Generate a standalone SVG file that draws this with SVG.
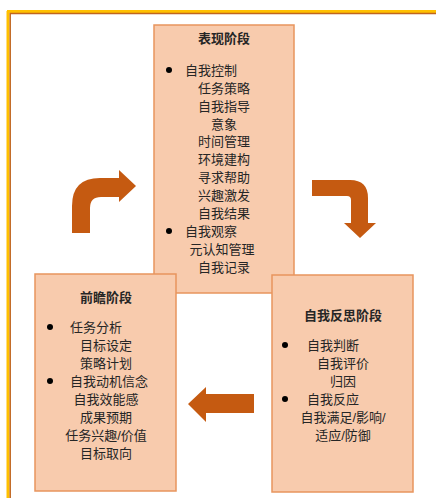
<svg xmlns="http://www.w3.org/2000/svg" width="436" height="498" viewBox="0 0 436 498">
<style>
.box{fill:#F8CBAD;stroke:#E8955E;stroke-width:1.5}
.t{font-family:"Liberation Sans","Noto Sans CJK SC",sans-serif;font-size:13px;fill:#262626}
.h{font-weight:bold}
.m{text-anchor:middle}
.arrow{fill:#C55A11}
.dot{fill:#000}
</style>
<rect x="0" y="0" width="436" height="498" fill="#fff"/>
<g id="frame">
<line x1="7" y1="11.5" x2="436" y2="11.5" stroke="#FFC000" stroke-width="3"/>
<line x1="8" y1="11" x2="8" y2="498" stroke="#FFC000" stroke-width="3"/>
<line x1="10" y1="13.5" x2="436" y2="13.5" stroke="#C0651E" stroke-width="1.5"/>
<line x1="10.2" y1="13" x2="10.2" y2="498" stroke="#C0651E" stroke-width="1.5"/>
</g>
<g id="performance">
<rect class="box" x="154" y="25" width="140" height="268"/>
<text class="t h m" x="224" y="43">表现阶段</text>
<circle class="dot" cx="169" cy="70" r="3"/>
<text class="t" x="185" y="74.5">自我控制</text>
<text class="t m" x="224" y="92.5">任务策略</text>
<text class="t m" x="224" y="110.5">自我指导</text>
<text class="t m" x="224" y="128.5">意象</text>
<text class="t m" x="224" y="146">时间管理</text>
<text class="t m" x="224" y="164">环境建构</text>
<text class="t m" x="224" y="182">寻求帮助</text>
<text class="t m" x="224" y="200">兴趣激发</text>
<text class="t m" x="224" y="218">自我结果</text>
<circle class="dot" cx="169" cy="231" r="3"/>
<text class="t" x="185" y="235.5">自我观察</text>
<text class="t m" x="222" y="253.5">元认知管理</text>
<text class="t m" x="224" y="271.5">自我记录</text>
</g>
<g id="forethought">
<rect class="box" x="35" y="274" width="141" height="217"/>
<text class="t h m" x="106" y="301.5">前瞻阶段</text>
<circle class="dot" cx="50" cy="327" r="3"/>
<text class="t" x="70" y="331.5">任务分析</text>
<text class="t m" x="106" y="349.5">目标设定</text>
<text class="t m" x="106" y="367.5">策略计划</text>
<circle class="dot" cx="50" cy="381" r="3"/>
<text class="t" x="70" y="385.5">自我动机信念</text>
<text class="t m" x="106" y="403.5">自我效能感</text>
<text class="t m" x="106" y="421.5">成果预期</text>
<text class="t m" x="106" y="439.5">任务兴趣/价值</text>
<text class="t m" x="106" y="457.5">目标取向</text>
</g>
<g id="reflection">
<rect class="box" x="272" y="275" width="141" height="217"/>
<text class="t h m" x="343" y="319.5">自我反思阶段</text>
<circle class="dot" cx="285" cy="345" r="3"/>
<text class="t" x="307" y="349.5">自我判断</text>
<text class="t m" x="343" y="367.5">自我评价</text>
<text class="t m" x="343" y="385.5">归因</text>
<circle class="dot" cx="285" cy="399" r="3"/>
<text class="t" x="307" y="403.5">自我反应</text>
<text class="t m" x="343" y="421.5">自我满足/影响/</text>
<text class="t m" x="343" y="439.5">适应/防御</text>
</g>
<g id="connectors">
<path class="arrow" d="M72,233 L72,206 Q72,178 100,178 L119,178 L119,170 L136,186 L119,202 L119,197 L101,197 Q90,197 90,208 L90,233 Z"/>
<path class="arrow" d="M312,180 L350,180 Q368,180 368,198 L368,223 L376,223 L360,238 L344,223 L351,223 L351,200 Q351,196 347,196 L312,196 Z"/>
<path class="arrow" d="M254,394 L206,394 L206,387 L188,404 L206,422 L206,413 L254,413 Z"/>
</g>
</svg>
